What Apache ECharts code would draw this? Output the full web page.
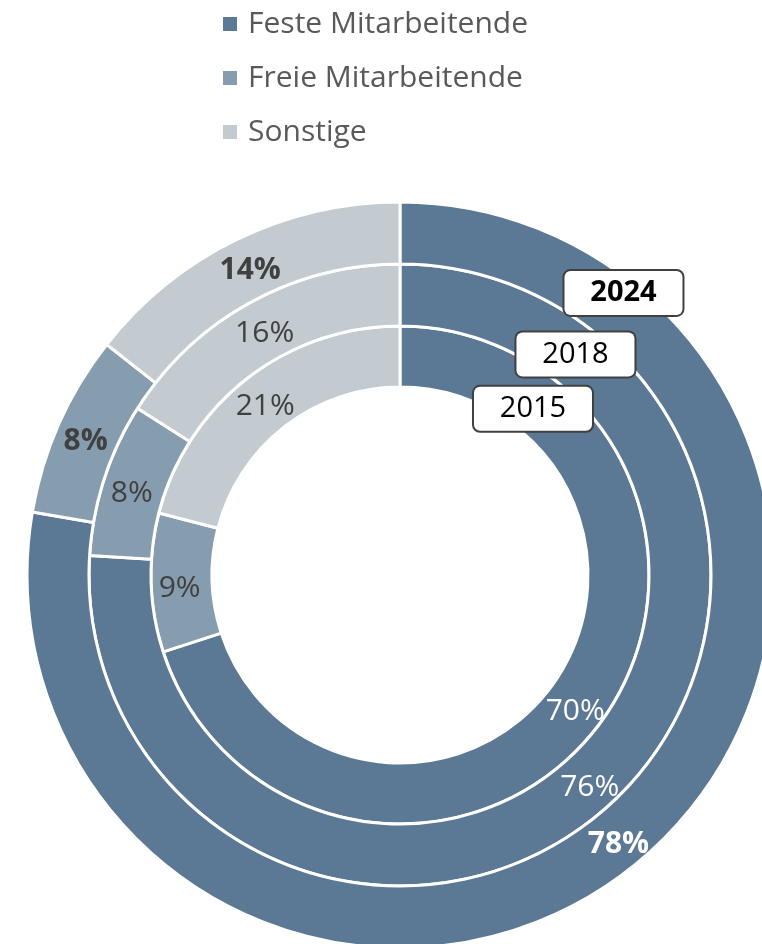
<!DOCTYPE html>
<html style="height: 100%" lang="de">
<head>
    <meta charset="utf-8">
    <script type="text/javascript" src="https://cdn.jsdelivr.net/npm/echarts@6/dist/echarts.min.js"></script>
</head>
<body style="height: 100%; margin: 0; background: #fff">
<div id="container" style="width: 762px; height: 944px"></div>
<script type="text/javascript">
    // Kategorien und Werte je Jahr (Prozent, Beschriftung gerundet)
    var categories = ['Feste Mitarbeitende', 'Freie Mitarbeitende', 'Sonstige'];
    var years = ['2015', '2018', '2024'];
    var values2015 = [70, 9, 21];
    var values2018 = [76, 8, 16];
    var values2024 = [77.7, 7.9, 14.4];

    var colors = ['#5b7894', '#869db0', '#c3cbd1'];
    var labelColors = ['#ffffff', '#404040', '#404040'];
    var fontFamily = '"Open Sans", "Noto Sans", sans-serif';

    var center = [400, 575];
    var rings = [[188, 249], [249, 311], [311, 373]];
    // Ring fuer die Jahreszahl-Kaestchen (Mitte bestimmt die Lage)
    var yearCenter = [400, 579];
    var yearRings = [[190, 236], [252, 312], [346, 374]];
    var yearAngle = 38; // Grad im Uhrzeigersinn von oben

    var allValues = [values2015, values2018, values2024];

    var series = [];
    allValues.forEach(function (vals, r) {
        var bold = r === 2;
        series.push({
            name: years[r],
            type: 'pie',
            radius: rings[r],
            center: center,
            startAngle: 90,
            clockwise: true,
            silent: true,
            avoidLabelOverlap: false,
            data: vals.map(function (v, i) {
                return {
                    name: categories[i],
                    value: v,
                    itemStyle: {color: colors[i]},
                    label: {color: labelColors[i]}
                };
            }),
            itemStyle: {borderColor: '#ffffff', borderWidth: 3},
            label: {
                show: true,
                position: 'inside',
                formatter: function (p) {
                    return Math.round(p.value) + '%';
                },
                fontFamily: fontFamily,
                fontSize: 30,
                fontWeight: bold ? 'bold' : 'normal'
            },
            labelLayout: function (p) {
                return {dx: p.dataIndex === 0 ? -4 : 1, dy: 6};
            },
            labelLine: {show: false}
        });
    });

    // Jahreszahlen als Kaestchen
    years.forEach(function (y, r) {
        series.push({
            name: y,
            type: 'pie',
            radius: yearRings[r],
            center: yearCenter,
            startAngle: 90,
            clockwise: true,
            silent: true,
            avoidLabelOverlap: false,
            z: 10,
            data: [
                {
                    value: yearAngle * 2,
                    label: {
                        show: true,
                        position: 'inside',
                        formatter: y,
                        color: '#000000',
                        fontFamily: fontFamily,
                        fontSize: 29,
                        fontWeight: r === 2 ? 'bold' : 'normal',
                        lineHeight: 30,
                        width: 70,
                        overflow: 'none',
                        align: 'center',
                        padding: [7, 24],
                        backgroundColor: '#ffffff',
                        borderColor: '#404040',
                        borderWidth: 2,
                        borderRadius: 6
                    }
                },
                {value: 360 - yearAngle * 2, label: {show: false}}
            ],
            itemStyle: {color: 'transparent', borderWidth: 0},
            labelLine: {show: false}
        });
    });

    var myChart = echarts.init(document.getElementById('container'));
    var option = {
        animation: false,
        color: colors,
        legend: {
            orient: 'vertical',
            left: 221,
            top: 7,
            padding: 0,
            data: categories,
            icon: 'rect',
            itemWidth: 16,
            itemHeight: 16,
            itemGap: 20,
            selectedMode: false,
            textStyle: {
                color: '#595959',
                fontFamily: fontFamily,
                fontSize: 30,
                lineHeight: 34,
                padding: [0, 0, 0, 5]
            }
        },
        series: series
    };
    myChart.setOption(option);
</script>
</body>
</html>
